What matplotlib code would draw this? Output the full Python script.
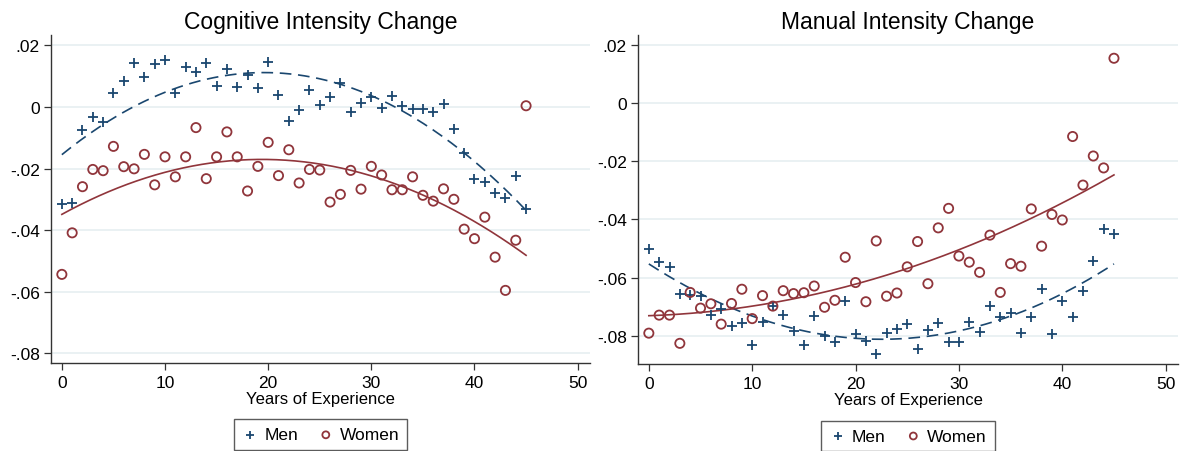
import numpy as np
import matplotlib
matplotlib.use('Agg')
import matplotlib.pyplot as plt

plt.rcParams['font.family'] = ['Liberation Sans', 'DejaVu Sans']

years = np.arange(0, 46)

cog_men = [-0.0315, -0.0313, -0.0074, -0.0032, -0.0048, 0.0045, 0.0085, 0.0143, 0.0098, 0.0139,
           0.0153, 0.0047, 0.0131, 0.0114, 0.0144, 0.0068, 0.0124, 0.0065, 0.0104, 0.0062,
           0.0146, 0.0040, -0.0044, -0.0010, 0.0054, 0.0006, 0.0034, 0.0079, -0.0016, 0.0012,
           0.0034, -0.0002, 0.0035, 0.0002, -0.0008, -0.0007, -0.0016, 0.0009, -0.0070, -0.0148,
           -0.0234, -0.0245, -0.0279, -0.0297, -0.0224, -0.0331]
cog_women = [-0.0544, -0.0409, -0.0259, -0.0203, -0.0207, -0.0128, -0.0194, -0.0201, -0.0154, -0.0253,
             -0.0162, -0.0227, -0.0162, -0.0067, -0.0233, -0.0162, -0.0081, -0.0162, -0.0273, -0.0193,
             -0.0115, -0.0223, -0.0139, -0.0247, -0.0203, -0.0205, -0.0309, -0.0284, -0.0206, -0.0267,
             -0.0193, -0.0221, -0.0269, -0.0269, -0.0227, -0.0287, -0.0306, -0.0266, -0.0300, -0.0397,
             -0.0428, -0.0358, -0.0488, -0.0596, -0.0433, 0.0004]
man_men = [-0.0502, -0.0545, -0.0563, -0.0658, -0.0661, -0.0664, -0.0730, -0.0709, -0.0766, -0.0755,
           -0.0832, -0.0751, -0.0698, -0.0729, -0.0784, -0.0832, -0.0732, -0.0800, -0.0823, -0.0682,
           -0.0795, -0.0818, -0.0864, -0.0791, -0.0776, -0.0758, -0.0845, -0.0779, -0.0756, -0.0822,
           -0.0822, -0.0751, -0.0787, -0.0698, -0.0736, -0.0721, -0.0792, -0.0737, -0.0638, -0.0794,
           -0.0679, -0.0736, -0.0646, -0.0544, -0.0434, -0.0451]
man_women = [-0.0791, -0.0729, -0.0729, -0.0826, -0.0651, -0.0705, -0.0690, -0.0760, -0.0689, -0.0640,
             -0.0741, -0.0662, -0.0698, -0.0645, -0.0655, -0.0652, -0.0629, -0.0702, -0.0678, -0.0530,
             -0.0617, -0.0683, -0.0474, -0.0664, -0.0653, -0.0563, -0.0476, -0.0621, -0.0429, -0.0362,
             -0.0526, -0.0547, -0.0582, -0.0454, -0.0651, -0.0552, -0.0561, -0.0364, -0.0492, -0.0383,
             -0.0402, -0.0115, -0.0282, -0.0182, -0.0223, 0.0154]

# quadratic fit lines (estimated on the underlying sample): value at start, middle, end
fit_x = [0, 22.5, 45]
cog_men_fit = [-0.0155, 0.0106, -0.0336]
cog_women_fit = [-0.0349, -0.0175, -0.0482]
man_men_fit = [-0.0553, -0.0812, -0.0553]
man_women_fit = [-0.0731, -0.0597, -0.0247]

yticks = [0.02, 0.0, -0.02, -0.04, -0.06, -0.08]
ytick_labels = ['.02', '0', '-.02', '-.04', '-.06', '-.08']
xticks = [0, 10, 20, 30, 40, 50]

navy = '#1a476f'
maroon = '#90353b'
grid_col = '#e6eff1'

fig = plt.figure(figsize=(11.81, 4.52), dpi=100)
ax1 = fig.add_axes([0.0432, 0.1947, 0.4564, 0.7257])
ax2 = fig.add_axes([0.5402, 0.1925, 0.4573, 0.7279])


def qcurve(vals):
    xs = np.linspace(fit_x[0], fit_x[-1], 200)
    return xs, np.polyval(np.polyfit(fit_x, vals, 2), xs)


def panel(ax, men, women, men_fit, women_fit, title, ylim):
    for y in yticks:
        ax.axhline(y, color=grid_col, lw=1.2, zorder=0)

    ax.scatter(years, men, marker='+', s=46, color=navy, linewidths=1.3, label='Men', zorder=3)
    ax.scatter(years, women, marker='o', s=44, facecolors='none', edgecolors=maroon,
               linewidths=1.3, label='Women', zorder=3)
    xs, fm = qcurve(men_fit)
    ax.plot(xs, fm, color=navy, lw=1.2, dashes=(7, 4), zorder=2)
    xs, fw = qcurve(women_fit)
    ax.plot(xs, fw, color=maroon, lw=1.2, zorder=2)

    ax.set_xlim(-1.05, 51.2)
    ax.set_ylim(*ylim)
    ax.set_xticks(xticks)
    ax.set_yticks(yticks)
    ax.set_yticklabels(ytick_labels)
    ax.tick_params(axis='both', labelsize=12.5, length=5, width=0.9, color='#333333', pad=3)
    ax.tick_params(axis='x', pad=4)
    for s in ['top', 'right']:
        ax.spines[s].set_visible(False)
    for s in ['left', 'bottom']:
        ax.spines[s].set_color('#333333')
        ax.spines[s].set_linewidth(1.0)
    ax.set_xlabel('Years of Experience', fontsize=12, labelpad=0.5)
    ax.set_title(title, fontsize=16.5, pad=5)
    leg = ax.legend(loc='upper center', bbox_to_anchor=(0.5, -0.172), ncol=2, fontsize=12.5,
                    frameon=True, fancybox=False, edgecolor='#333333', handletextpad=0.3,
                    columnspacing=1.1, borderpad=0.45, borderaxespad=0, markerscale=0.75,
                    scatterpoints=1, handlelength=1.0)
    leg.get_frame().set_linewidth(1.0)


panel(ax1, cog_men, cog_women, cog_men_fit, cog_women_fit,
      'Cognitive Intensity Change', (-0.0832, 0.0234))
panel(ax2, man_men, man_women, man_men_fit, man_women_fit,
      'Manual Intensity Change', (-0.0897, 0.0234))

fig.savefig('out.png', dpi=100)
